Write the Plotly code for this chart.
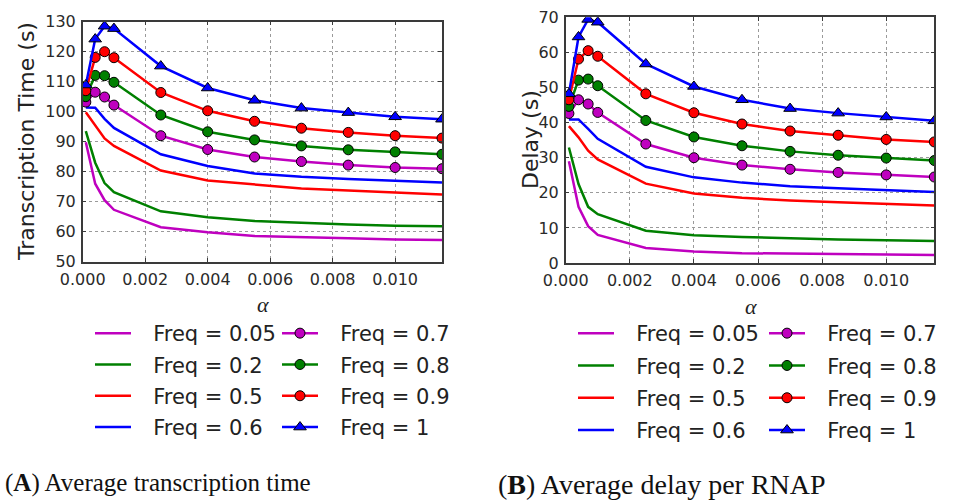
import plotly.graph_objects as go

# alpha values sampled in both experiments
alpha = [0.0001, 0.0004, 0.0007, 0.001, 0.0025, 0.004, 0.0055, 0.007, 0.0085, 0.010, 0.0115]

freq_labels = ["Freq = 0.05", "Freq = 0.2", "Freq = 0.5", "Freq = 0.6",
               "Freq = 0.7", "Freq = 0.8", "Freq = 0.9", "Freq = 1"]

# (A) average transcription time (s)
tt_005 = [89.8, 76.0, 70.5, 67.3, 61.5, 59.8, 58.6, 58.1, 57.8, 57.4, 57.2]
tt_02 = [93.5, 83.0, 76.2, 73.2, 66.8, 64.8, 63.6, 62.9, 62.4, 62.0, 61.8]
tt_05 = [99.8, 95.6, 91.1, 88.6, 80.4, 77.1, 75.7, 74.4, 73.7, 73.0, 72.4]
tt_06 = [101.4, 101.3, 97.6, 94.6, 85.8, 81.9, 79.4, 78.3, 77.6, 76.9, 76.4]
tt_07 = [103.2, 106.5, 104.9, 102.2, 92.0, 87.4, 84.9, 83.4, 82.2, 81.4, 81.0]
tt_08 = [105.0, 112.1, 112.0, 109.8, 98.9, 93.3, 90.6, 88.6, 87.3, 86.6, 85.8]
tt_09 = [107.0, 118.1, 120.0, 118.0, 106.4, 100.3, 96.8, 94.5, 93.1, 92.0, 91.2]
tt_1 = [108.9, 124.2, 128.5, 127.7, 115.2, 107.9, 103.8, 101.2, 99.7, 98.3, 97.5]

# (B) average delay per RNAP (s)
dl_005 = [29.0, 16.0, 10.5, 8.0, 4.3, 3.3, 2.8, 2.6, 2.5, 2.4, 2.3]
dl_02 = [32.9, 22.5, 16.0, 13.9, 9.2, 7.9, 7.4, 7.0, 6.7, 6.5, 6.3]
dl_05 = [39.0, 35.8, 32.0, 29.5, 22.6, 19.8, 18.6, 17.8, 17.3, 16.8, 16.4]
dl_06 = [40.9, 40.9, 38.2, 35.4, 27.4, 24.4, 22.9, 21.9, 21.3, 20.8, 20.2]
dl_07 = [42.6, 46.5, 45.3, 42.9, 33.9, 30.0, 27.9, 26.7, 25.8, 25.1, 24.5]
dl_08 = [44.6, 52.1, 52.4, 50.5, 40.6, 35.9, 33.4, 31.8, 30.7, 29.9, 29.2]
dl_09 = [46.5, 58.1, 60.5, 58.9, 48.2, 42.8, 39.6, 37.6, 36.4, 35.2, 34.5]
dl_1 = [48.2, 64.4, 69.4, 68.6, 56.7, 50.3, 46.5, 44.0, 42.7, 41.6, 40.5]

x_ticks = [0.000, 0.002, 0.004, 0.006, 0.008, 0.010]
tt_ticks = [50, 60, 70, 80, 90, 100, 110, 120, 130]
dl_ticks = [0, 10, 20, 30, 40, 50, 60, 70]

colors = ["#bf00bf", "#008000", "#ff0000", "#0000ff",
          "#bf00bf", "#008000", "#ff0000", "#0000ff"]
symbols = [None, None, None, None,
           "circle", "circle", "circle", "triangle-up"]

W, H = 953, 502
# gap between a legend swatch and its label
LEG_PAD = "\u2002\u00a0"


def px_x(p):
    return p / W


def px_y(p):
    return 1 - p / H


fig = go.Figure()


def add_panel(series, xa, ya, leg_a, leg_b, tag):
    for i, (ys, name) in enumerate(zip(series, freq_labels)):
        sym = symbols[i]
        tr = dict(
            x=alpha, y=ys, name=LEG_PAD + name, xaxis=xa, yaxis=ya,
            line=dict(color=colors[i], width=2.5),
            legend=leg_a if i < 4 else leg_b,
            legendgroup=f"{tag}{i}",
        )
        if sym is None:
            tr["mode"] = "lines"
        else:
            tr["mode"] = "lines+markers"
            tr["marker"] = dict(symbol=sym, size=10 if sym == "circle" else 11,
                                color=colors[i],
                                line=dict(color="black", width=1))
        fig.add_trace(go.Scatter(**tr))


add_panel([tt_005, tt_02, tt_05, tt_06, tt_07, tt_08, tt_09, tt_1],
          "x", "y", "legend", "legend2", "a")
add_panel([dl_005, dl_02, dl_05, dl_06, dl_07, dl_08, dl_09, dl_1],
          "x2", "y2", "legend3", "legend4", "b")

tick_font = dict(family="DejaVu Sans", size=16, color="#2a2a2a")
common_axis = dict(
    showline=True, linecolor="#3a3a3a", linewidth=1.5, mirror="allticks",
    ticks="inside", ticklen=4, tickcolor="#3a3a3a", tickwidth=1,
    showgrid=True, gridcolor="#9a9a9a", griddash="dot", gridwidth=1,
    zeroline=False, tickfont=tick_font, automargin=False,
)

legend_common = dict(
    font=dict(family="DejaVu Sans", size=21, color="#222"),
    bgcolor="rgba(0,0,0,0)", borderwidth=0, yanchor="top",
    xanchor="left", itemwidth=36, traceorder="grouped",
)

fig.update_layout(
    width=W, height=H,
    margin=dict(l=0, r=0, t=0, b=0, autoexpand=False),
    paper_bgcolor="white", plot_bgcolor="white",
    xaxis=dict(domain=[px_x(82.7), px_x(442)], range=[0, 0.0115],
               tickvals=x_ticks, tickformat=".3f", anchor="y",
               ticklabelstandoff=2, **common_axis),
    yaxis=dict(domain=[px_y(261.7), px_y(21.7)], range=[50, 130],
               tickvals=tt_ticks, anchor="x", ticklabelstandoff=2, **common_axis),
    xaxis2=dict(domain=[px_x(565.7), px_x(934.3)], range=[0, 0.0115],
                tickvals=x_ticks, tickformat=".3f", anchor="y2",
                ticklabelstandoff=2, **common_axis),
    yaxis2=dict(domain=[px_y(263), px_y(17.3)], range=[0, 70],
                tickvals=dl_ticks, anchor="x2", ticklabelstandoff=2, **common_axis),
    legend=dict(x=px_x(90), y=px_y(313), tracegroupgap=1, **legend_common),
    legend2=dict(x=px_x(277), y=px_y(313), tracegroupgap=1, **legend_common),
    legend3=dict(x=px_x(573), y=px_y(313), tracegroupgap=2, **legend_common),
    legend4=dict(x=px_x(764), y=px_y(313), tracegroupgap=2, **legend_common),
)

ann_font = dict(family="DejaVu Sans", size=22, color="#222")
alpha_font = dict(family="Liberation Serif", size=22, color="#222", style="italic")
cap_font_a = dict(family="Liberation Serif", size=25, color="#111")
cap_font_b = dict(family="Liberation Serif", size=28, color="#111")

annotations = [
    dict(text="Transcription Time (s)", x=px_x(27), y=px_y(142), textangle=-90,
         font=ann_font),
    dict(text="Delay (s)", x=px_x(530), y=px_y(140), textangle=-90, font=ann_font),
    dict(text="α", x=px_x(262.5), y=px_y(304), font=alpha_font),
    dict(text="α", x=px_x(750.5), y=px_y(306), font=alpha_font),
    dict(text="(<b>A</b>) Average transcription time", x=px_x(4), y=px_y(483),
         xanchor="left", font=cap_font_a),
    dict(text="(<b>B</b>) Average delay per RNAP", x=px_x(497), y=px_y(484),
         xanchor="left", font=cap_font_b),
]
for a in annotations:
    a.setdefault("xanchor", "center")
    a.update(xref="paper", yref="paper", yanchor="middle", showarrow=False,
             borderpad=0)
fig.update_layout(annotations=annotations)

fig.write_html("out.html")
